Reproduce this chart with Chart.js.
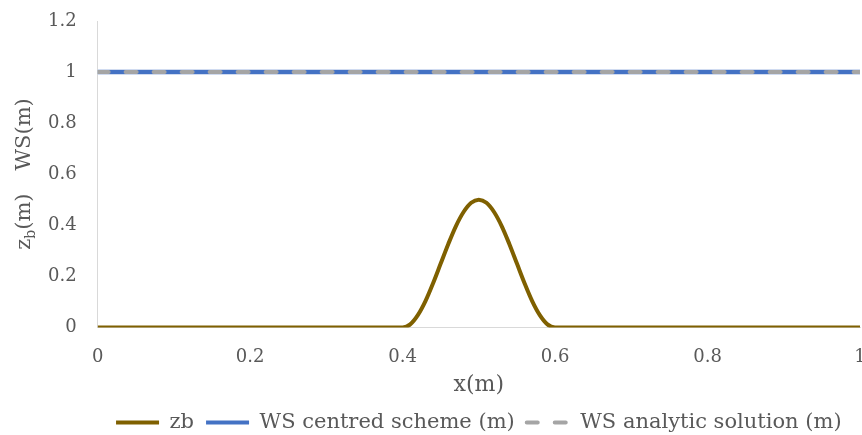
<!DOCTYPE html>
<html>
<head>
<meta charset="utf-8">
<script src="https://cdn.jsdelivr.net/npm/chart.js@4/dist/chart.umd.min.js"></script>
<style>
  html, body { margin: 0; padding: 0; background: #fff; }
  #wrap { width: 862px; height: 435px; }
</style>
</head>
<body>
<div id="wrap"><canvas id="myChart"></canvas></div>
<script>
// data
var xZb = [0, 0.1, 0.2, 0.3, 0.39, 0.40, 0.41, 0.42, 0.43, 0.44, 0.45, 0.46, 0.47, 0.48, 0.49, 0.50,
           0.51, 0.52, 0.53, 0.54, 0.55, 0.56, 0.57, 0.58, 0.59, 0.60, 0.61, 0.7, 0.8, 0.9, 1];
var zb  = [0, 0, 0, 0, 0, 0, 0.012, 0.048, 0.103, 0.173, 0.25, 0.327, 0.397, 0.452, 0.488, 0.5,
           0.488, 0.452, 0.397, 0.327, 0.25, 0.173, 0.103, 0.048, 0.012, 0, 0, 0, 0, 0, 0];
var xWs = [0, 1];
var wsCentred = [1, 1];
var wsAnalytic = [1, 1];

var textColor = '#595959';
var fontFamily = "'DejaVu Serif', 'Liberation Serif', serif";

function toPoints(xs, ys) {
  return xs.map(function (x, i) { return { x: x, y: ys[i] }; });
}

function fmt(v) {
  return String(Math.round(v * 10) / 10);
}

// y title with subscript b: z_b(m)   WS(m)
var yTitlePlugin = {
  id: 'yTitle',
  afterDraw: function (chart) {
    var ctx = chart.ctx;
    ctx.save();
    ctx.translate(25, 174);
    ctx.rotate(-Math.PI / 2);
    ctx.fillStyle = textColor;
    ctx.textBaseline = 'middle';
    ctx.textAlign = 'left';
    var big = '21px ' + fontFamily, small = '14px ' + fontFamily;
    ctx.font = big;
    var wz = ctx.measureText('z').width;
    var wm = ctx.measureText('(m)').width;
    var wws = ctx.measureText('WS(m)').width;
    ctx.font = small;
    var wb = ctx.measureText('b').width;
    var gap = 23;
    var total = wz + wb + wm + gap + wws;
    var x = -total / 2;
    ctx.font = big;
    ctx.fillText('z', x, 0);
    x += wz;
    ctx.font = small;
    ctx.fillText('b', x, 6);
    x += wb;
    ctx.font = big;
    ctx.fillText('(m)', x, 0);
    x += wm + gap;
    ctx.fillText('WS(m)', x, 0);
    ctx.restore();
  }
};

// legend items: keep the dataset's dash and width on the line symbol
function legendLabels(chart) {
  var items = Chart.defaults.plugins.legend.labels.generateLabels(chart);
  items.forEach(function (item) {
    var ds = chart.data.datasets[item.datasetIndex];
    item.lineDash = ds.borderDash || [];
    item.lineWidth = 4;
    item.lineCap = ds.borderDash ? 'round' : 'butt';
  });
  return items;
}

new Chart('myChart', {
  type: 'line',
  data: {
    datasets: [{
      label: 'zb',
      data: toPoints(xZb, zb),
      borderColor: '#7F6000',
      backgroundColor: '#7F6000',
      borderWidth: 4,
      pointRadius: 0,
      cubicInterpolationMode: 'monotone',
      order: 0
    }, {
      label: 'WS centred scheme (m)',
      data: toPoints(xWs, wsCentred),
      borderColor: '#4472C4',
      backgroundColor: '#4472C4',
      borderWidth: 4.5,
      pointRadius: 0,
      order: 2
    }, {
      label: 'WS analytic solution (m)',
      data: toPoints(xWs, wsAnalytic),
      borderColor: '#A5A5A5',
      backgroundColor: '#A5A5A5',
      borderWidth: 4,
      borderDash: [11, 17],
      borderCapStyle: 'round',
      pointRadius: 0,
      order: 1
    }]
  },
  options: {
    responsive: true,
    maintainAspectRatio: false,
    animation: false,
    layout: { padding: { left: 35, right: 2, top: 0, bottom: -8 } },
    plugins: {
      legend: {
        position: 'bottom',
        fullSize: false,
        labels: {
          color: textColor,
          font: { family: fontFamily, size: 21 },
          usePointStyle: true,
          pointStyle: 'line',
          pointStyleWidth: 43,
          padding: 12,
          generateLabels: legendLabels,
          sort: function (a, b) { return a.datasetIndex - b.datasetIndex; }
        }
      },
      tooltip: { enabled: false }
    },
    scales: {
      x: {
        type: 'linear',
        min: 0,
        max: 1,
        grid: { display: false },
        border: { display: true, color: '#D9D9D9', width: 1 },
        ticks: {
          stepSize: 0.2,
          color: textColor,
          font: { family: fontFamily, size: 18 },
          padding: 11,
          maxRotation: 0,
          callback: fmt
        },
        title: {
          display: true,
          text: 'x(m)',
          color: textColor,
          font: { family: fontFamily, size: 22, lineHeight: 1 },
          padding: { top: -5, bottom: 4 }
        },
        afterFit: function (scale) { scale.paddingRight = 0; }
      },
      y: {
        min: 0,
        max: 1.2,
        grid: { display: false },
        border: { display: true, color: '#D9D9D9', width: 1 },
        ticks: {
          stepSize: 0.2,
          color: textColor,
          font: { family: fontFamily, size: 18 },
          padding: 13,
          callback: fmt
        },
        afterFit: function (scale) { scale.paddingTop = 21; }
      }
    }
  },
  plugins: [yTitlePlugin]
});
</script>
</body>
</html>
